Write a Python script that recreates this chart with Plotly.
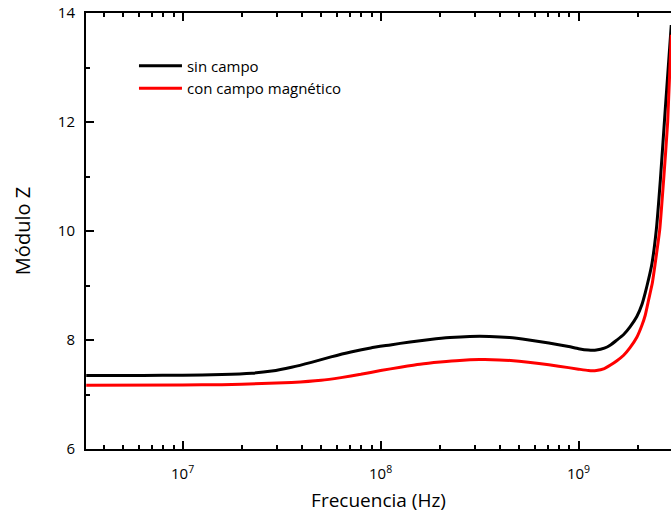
import plotly.graph_objects as go

# Impedance modulus |Z| vs frequency, with and without magnetic field
freq_sin = [3.26e6, 6.31e6, 1.00e7, 1.58e7, 2.24e7, 2.82e7, 3.55e7, 4.47e7,
            5.62e7, 7.08e7, 8.91e7, 1.12e8, 1.41e8, 1.78e8, 2.24e8, 2.82e8,
            3.55e8, 4.47e8, 5.62e8, 7.08e8, 8.91e8, 1.00e9, 1.12e9, 1.23e9,
            1.35e9, 1.45e9, 1.55e9, 1.69e9, 1.82e9, 1.97e9, 2.09e9, 2.17e9,
            2.26e9, 2.35e9, 2.47e9, 2.59e9, 2.75e9, 2.94e9]
z_sin = [7.35, 7.35, 7.355, 7.365, 7.39, 7.43, 7.50, 7.59,
         7.69, 7.78, 7.855, 7.91, 7.965, 8.01, 8.045, 8.065,
         8.065, 8.045, 8.00, 7.945, 7.88, 7.84, 7.815, 7.815,
         7.85, 7.91, 7.99, 8.10, 8.24, 8.43, 8.65, 8.86,
         9.12, 9.41, 10.02, 10.94, 12.30, 13.78]

freq_con = [3.26e6, 1.00e7, 1.58e7, 2.51e7, 3.55e7, 5.01e7, 6.31e7, 7.94e7,
            1.00e8, 1.26e8, 1.58e8, 2.00e8, 2.51e8, 3.16e8, 3.98e8, 5.01e8,
            6.31e8, 7.94e8, 1.00e9, 1.12e9, 1.23e9, 1.35e9, 1.45e9, 1.55e9,
            1.69e9, 1.82e9, 1.97e9, 2.09e9, 2.17e9, 2.26e9, 2.36e9, 2.44e9,
            2.57e9, 2.69e9, 2.82e9, 2.94e9]
z_con = [7.17, 7.175, 7.18, 7.20, 7.22, 7.26, 7.31, 7.37,
         7.44, 7.50, 7.555, 7.595, 7.625, 7.64, 7.635, 7.61,
         7.57, 7.52, 7.465, 7.44, 7.44, 7.475, 7.54, 7.61,
         7.72, 7.86, 8.05, 8.27, 8.45, 8.74, 9.05, 9.41,
         10.02, 10.94, 12.00, 13.60]

series_names = ["sin campo", "con campo magnético"]
series_colors = ["#000000", "#ff0000"]

x_major = [1e7, 1e8, 1e9]
x_major_text = ["10<sup>7</sup>", "10<sup>8</sup>", "10<sup>9</sup>"]
x_minor = [m * 10 ** e for e in range(6, 10) for m in range(2, 10)
           if 3.2e6 <= m * 10 ** e <= 3e9]

FONT = "Open Sans"

fig = go.Figure()
for f, z, name, color in [(freq_sin, z_sin, series_names[0], series_colors[0]),
                          (freq_con, z_con, series_names[1], series_colors[1])]:
    fig.add_trace(go.Scatter(
        x=f, y=z, mode="lines", name=name,
        line=dict(color=color, width=3, shape="spline", smoothing=0.5),
    ))

fig.update_layout(
    width=671, height=516,
    margin=dict(l=86, r=0, t=13, b=67),
    paper_bgcolor="white", plot_bgcolor="white",
    font=dict(family=FONT, size=15, color="#000000"),
    showlegend=True,
    legend=dict(x=0.082, y=0.916, xanchor="left", yanchor="top",
                bgcolor="rgba(0,0,0,0)", font=dict(size=15),
                itemwidth=43, tracegroupgap=0),
)

fig.update_xaxes(
    type="log", range=[6.512, 9.467],
    tickvals=x_major, ticktext=x_major_text,
    ticks="inside", ticklen=8, tickwidth=2, tickcolor="#000",
    minor=dict(tickvals=x_minor, ticks="inside", ticklen=4, tickwidth=1.5,
               tickcolor="#000", showgrid=False),
    showline=True, linewidth=2, linecolor="#000", mirror="ticks",
    showgrid=False, zeroline=False, ticklabelstandoff=10,
    tickfont=dict(size=15),
    title=dict(text="Frecuencia (Hz)", font=dict(size=19), standoff=12),
)
fig.update_yaxes(
    range=[6, 14], tickvals=[6, 8, 10, 12, 14],
    ticks="inside", ticklen=8, tickwidth=2, tickcolor="#000",
    minor=dict(tickvals=[7, 9, 11, 13], ticks="inside", ticklen=4,
               tickwidth=1.5, tickcolor="#000", showgrid=False),
    showline=True, linewidth=2, linecolor="#000",
    showgrid=False, zeroline=False, ticklabelstandoff=6,
    tickfont=dict(size=15),
    title=dict(text="Módulo Z", font=dict(size=20), standoff=22),
)

fig.write_html("out.html")
